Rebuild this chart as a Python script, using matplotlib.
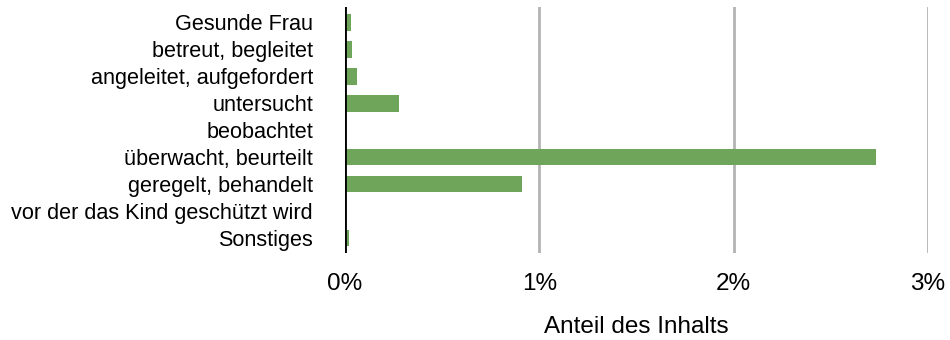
import matplotlib

matplotlib.use("Agg")
import matplotlib.pyplot as plt
from matplotlib.ticker import FuncFormatter

categories = [
    "Gesunde Frau",
    "betreut, begleitet",
    "angeleitet, aufgefordert",
    "untersucht",
    "beobachtet",
    "überwacht, beurteilt",
    "geregelt, behandelt",
    "vor der das Kind geschützt wird",
    "Sonstiges",
]
shares = [0.03, 0.035, 0.06, 0.28, 0.0, 2.73, 0.91, 0.0, 0.02]  # percent
x_ticks = [0, 1, 2, 3]

plt.rcParams["font.family"] = ["Liberation Sans", "DejaVu Sans"]

fig = plt.figure(figsize=(9.5, 3.4), dpi=100)
ax = fig.add_axes([345 / 950, 1 - 253 / 340, 583 / 950, 246 / 340])

y = list(range(len(categories)))
ax.barh(y, shares, height=0.62, color="#6ea55a", zorder=3)

ax.set_xlim(0, 3)
ax.set_ylim(len(categories) - 1 + 0.56, -0.57)
ax.set_yticks(y)
ax.set_yticklabels(categories, fontsize=15.6)
ax.set_xticks(x_ticks)
ax.xaxis.set_major_formatter(FuncFormatter(lambda v, _: f"{v:.0f}%"))
ax.tick_params(axis="x", labelsize=17.5, length=0, pad=14.5)
ax.tick_params(axis="y", length=0, pad=23)
ax.set_xlabel("Anteil des Inhalts", fontsize=17.5, labelpad=15)

for spine in ax.spines.values():
    spine.set_visible(False)
ax.axvline(0, color="black", linewidth=2, zorder=4)
ax.grid(axis="x", color="#b3b3b3", linewidth=2, zorder=0)
ax.set_axisbelow(True)

fig.savefig("out.png", dpi=100)
plt.close(fig)
